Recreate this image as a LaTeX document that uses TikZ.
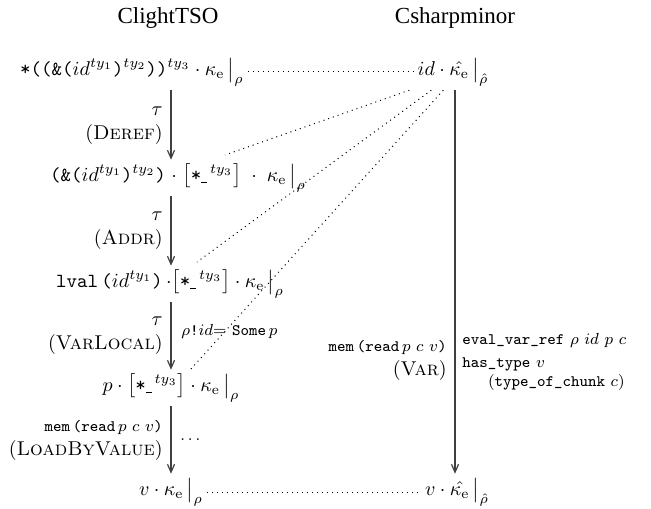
\documentclass[tikz,border=0pt]{standalone}
\usepackage{amsmath,amssymb}
\usepackage{fontspec}
\usepackage{tikz}
\usetikzlibrary{arrows.meta,positioning,calc}
\newfontfamily\titlefont{Liberation Serif}
\newcommand{\ke}{\kappa_{\mathrm{e}}}
\newcommand{\khat}{\hat{\kappa_{\mathrm{e}}}}
\newcommand{\starty}{\big[\texttt{*}\rule[-0.25ex]{0.3em}{0.45pt}^{\,ty_3}\big]}

\begin{document}
\begin{tikzpicture}[x=0.5pt, y=-0.5pt,
    state/.style={inner sep=2pt, font=\normalsize},
    title/.style={font=\titlefont\fontsize{11.5}{13}\selectfont},
    rule/.style={align=right, inner sep=1pt, font=\normalsize},
    side/.style={align=left, inner sep=1pt, font=\footnotesize},
    stepto/.style={-{Straight Barb[length=4pt,width=3.5pt]}, line width=0.6pt, draw=black!75},
    sim/.style={dotted, line width=0.5pt}
]
    \useasboundingbox (0,0) rectangle (651,508);

    % headings
    \node[title] (clight) at (168,18) {ClightTSO};
    \node[title] (csharp) at (455,18) {Csharpminor};

    % ClightTSO side
    \node[state] (l1) at (132,72) {\texttt{*((\&(}$id^{ty_1}$\texttt{)}$^{ty_2}$\texttt{))}$^{ty_3}\cdot\ke\,\big|_{\rho}$};
    \node[state] (l2) at (178,178) {\texttt{(\&(}$id^{ty_1}$\texttt{)}$^{ty_2}$\texttt{)}$\;\cdot\;\starty\;\cdot\;\ke\,\big|_{\rho}$};
    \node[state] (l3) at (170,284) {\texttt{lval\,(}$id^{ty_1}$\texttt{)}$\,\cdot\starty\cdot\ke\,\big|_{\rho}$};
    \node[state] (l4) at (171,388) {$p\cdot\starty\cdot\ke\,\big|_{\rho}$};
    \node[state] (l5) at (171,492) {$v\cdot\ke\,\big|_{\rho}$};

    % Csharpminor side
    \node[state] (r1) at (453,72) {$id\cdot\khat\,\big|_{\hat{\rho}}$};
    \node[state] (r5) at (457,492) {$v\cdot\khat\,\big|_{\hat{\rho}}$};

    % steps
    \draw[stepto] (l1.south -| l5) -- (l2.north -| l5);
    \draw[stepto] (l2.south -| l5) -- (l3.north -| l5);
    \draw[stepto] (l3.south -| l5) -- (l4.north -| l5);
    \draw[stepto] (l4.south -| l5) -- (l5.north);
    \draw[stepto] (r1.south -| csharp) -- (r5.north -| csharp);

    \node[rule, anchor=east] (deref) at (165,126) {$\tau$\\(\textsc{Deref})};
    \node[rule, anchor=east] (addr) at (165,231) {$\tau$\\(\textsc{Addr})};
    \node[rule, anchor=east] (varlocal) at (165,336) {$\tau$\\(\textsc{VarLocal})};
    \node[side, anchor=west] (some) at (179,331) {$\rho$\texttt{!}$id$= \texttt{Some}$\,p$};
    \node[rule, anchor=east] (loadbv) at (165,440) {{\footnotesize\texttt{mem\,(read}\,$p\ c\ v$\texttt{)}}\\(\textsc{LoadByValue})};
    \node[side, anchor=west] (dots) at (178,440) {$\ldots$};
    \node[rule, anchor=east] (var) at (449,360) {{\footnotesize\texttt{mem\,(read}\,$p\ c\ v$\texttt{)}}\\(\textsc{Var})};
    \node[side, anchor=west] (evref) at (460,362) {\texttt{eval\_var\_ref} $\rho\ id\ p\ c$\\[2pt]\texttt{has\_type} $v$\\\hspace*{1.6em}(\texttt{type\_of\_chunk} $c$)};

    % simulation relation
    \coordinate (t2) at (225,155);
    \coordinate (t3) at (197,262);
    \coordinate (t4) at (190,370);
    \draw[sim] (l1.east) -- (l1.east -| r1.west);
    \draw[sim] (l5.east) -- (l5.east -| r5.west);
    \draw[sim] ($(r1.south west)+(-4,0)$) -- (t2);
    \draw[sim] ($(r1.south west)+(18,0)$) -- (t3);
    \draw[sim] ($(r1.south west)+(30,0)$) -- (t4);
\end{tikzpicture}
\end{document}
